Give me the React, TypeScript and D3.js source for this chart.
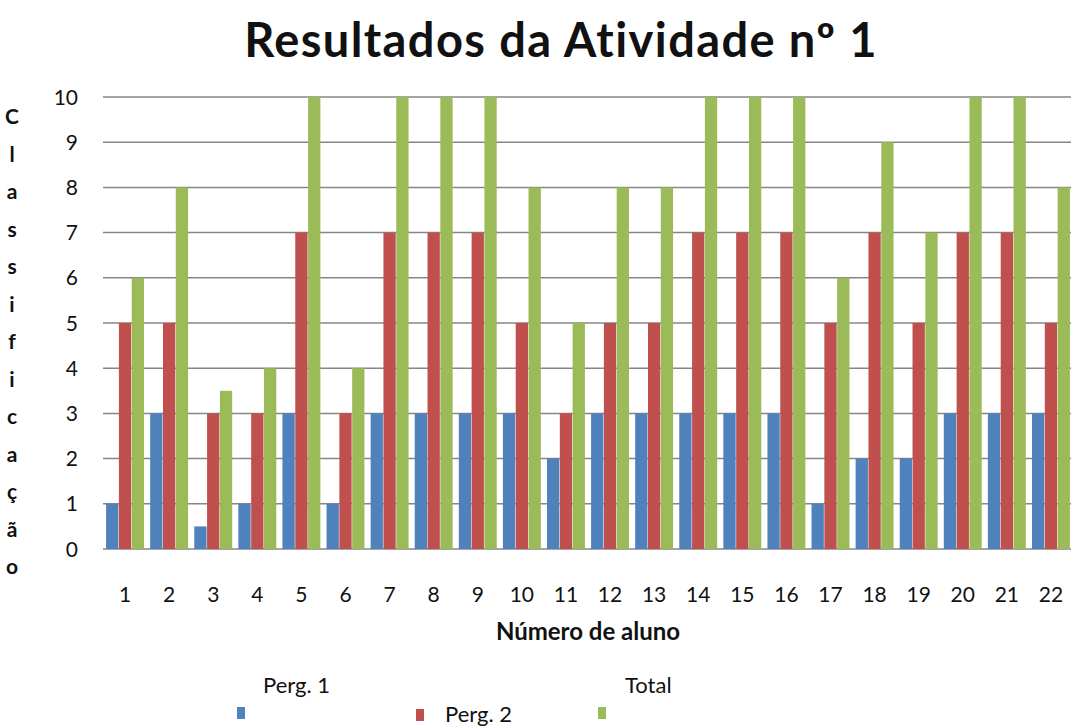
import React from "react";
import * as d3 from "d3";

const students = ["1","2","3","4","5","6","7","8","9","10","11","12","13","14","15","16","17","18","19","20","21","22"];
const perg1 = [1,3,0.5,1,3,1,3,3,3,3,2,3,3,3,3,3,1,2,2,3,3,3];
const perg2 = [5,5,3,3,7,3,7,7,7,5,3,5,5,7,7,7,5,7,5,7,7,5];
const total = [6,8,3.5,4,10,4,10,10,10,8,5,8,8,10,10,10,6,9,7,10,10,8];
const seriesNames = ["Perg. 1", "Perg. 2", "Total"];
const seriesColors = ["#4F81BD", "#C0504D", "#9BBB59"];
const yTicks = [0,1,2,3,4,5,6,7,8,9,10];
const yTitle = "Classificação";

const W = 1071, H = 726;
const FONT = "Lato, 'Open Sans', sans-serif";

export default function App() {
  const x0 = d3.scaleBand<string>().domain(students).range([103, 1073]).paddingInner(0.14).paddingOuter(0.07);
  const x1 = d3.scaleBand<string>().domain(seriesNames).range([0, x0.bandwidth()]).paddingInner(0.04);
  const y = d3.scaleLinear().domain([0, 10]).range([549, 97]);
  const data = [perg1, perg2, total];
  const letters = Array.from(yTitle);
  const ly = d3.scaleLinear().domain([0, letters.length - 1]).range([124, 574]);

  const legend = [
    { sx: 237, sy: 707, tx: 263, ty: 693 },
    { sx: 416, sy: 709, tx: 445, ty: 722 },
    { sx: 598, sy: 707, tx: 625, ty: 693 },
  ];

  return (
    <svg width={W} height={H} style={{ position: "absolute", left: 0, top: 0, background: "#fff" }} fontFamily={FONT}>
      <rect width={W} height={H} fill="#fff" />
      <text x={561} y={57} textAnchor="middle" fontSize={47} fontWeight="bold" letterSpacing={1.4} fill="#111">Resultados da Atividade nº 1</text>
      {yTicks.map(t => (
        <g key={t}>
          <line x1={103} x2={1071} y1={y(t)} y2={y(t)} stroke="#868686" strokeWidth={1.5} />
          <text x={78} y={y(t)} dy="0.36em" textAnchor="end" fontSize={21} fill="#111">{t}</text>
        </g>
      ))}
      {students.map((s, i) => (
        <g key={s} transform={`translate(${x0(s)},0)`}>
          {seriesNames.map((n, k) => (
            <rect key={n} x={x1(n)} y={y(data[k][i])} width={x1.bandwidth()} height={y(0) - y(data[k][i])} fill={seriesColors[k]} />
          ))}
        </g>
      ))}
      {students.map(s => (
        <text key={s} x={(x0(s) as number) + x0.bandwidth() / 2} y={602} textAnchor="middle" fontSize={21} fill="#111">{s}</text>
      ))}
      <text x={588} y={640} textAnchor="middle" fontSize={24} fontWeight="bold" fill="#111">Número de aluno</text>
      {letters.map((c, i) => (
        <text key={i} x={12} y={ly(i)} textAnchor="middle" fontSize={21} fontWeight="bold" fill="#111">{c}</text>
      ))}
      {seriesNames.map((n, k) => (
        <g key={n}>
          <rect x={legend[k].sx} y={legend[k].sy} width={8} height={12} fill={seriesColors[k]} />
          <text x={legend[k].tx} y={legend[k].ty} fontSize={22} fill="#111">{n}</text>
        </g>
      ))}
    </svg>
  );
}
